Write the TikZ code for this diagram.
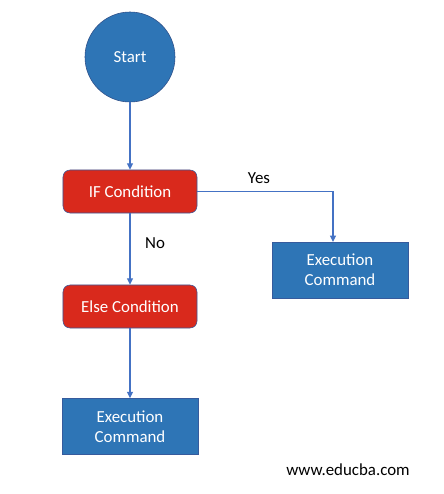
\documentclass[tikz,border=0pt]{standalone}
\usepackage{fontspec}
\setmainfont{Carlito}
\usetikzlibrary{arrows.meta,positioning}
\definecolor{stepblue}{HTML}{2E75B6}
\definecolor{condred}{HTML}{D9291C}
\definecolor{linkblue}{HTML}{4472C4}

\begin{document}
\begin{tikzpicture}[
    x=0.025cm, y=-0.025cm,
    startnode/.style={circle, draw=linkblue!70!black, fill=stepblue, text=white, minimum size=2.25cm, inner sep=0pt, font=\large},
    cond/.style={draw=linkblue!80!black, fill=condred, rounded corners=5pt, text=white, minimum width=3.35cm, minimum height=1.075cm, font=\large},
    cmd/.style={draw=linkblue!80!black, fill=stepblue, text=white, align=center, minimum width=3.4cm, minimum height=1.4cm, font=\large},
    link/.style={-{Triangle[length=1.6mm, width=1.5mm]}, linkblue, thick}
]
\useasboundingbox (0,0) rectangle (443,494);
\node[startnode] (start) at (130,57) {Start};
\node[cond] (ifcond) at (130,191.5) {IF Condition};
\node[cond] (elsecond) at (130,306.5) {Else Condition};
\node[cmd] (cmdyes) at (340,270) {Execution\\Command};
\node[cmd] (cmdno) at (130,426.5) {Execution\\Command};
\coordinate (yestop) at (333,242);
\node[font=\large] (yeslbl) at (259,178) {Yes};
\node[font=\large] (nolbl) at (155,243) {No};
\node[font=\large] (site) at (348,470) {www.educba.com};

\draw[link] (start) -- (ifcond);
\draw[link] (ifcond.east) -| (yestop);
\draw[link] (ifcond) -- (elsecond);
\draw[link] (elsecond) -- (cmdno);
\end{tikzpicture}
\end{document}
